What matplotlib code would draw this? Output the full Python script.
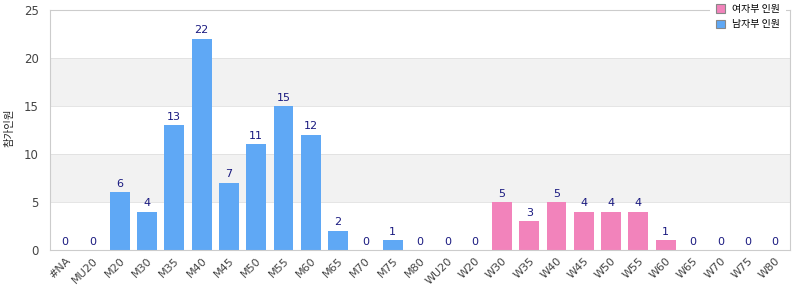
import matplotlib
matplotlib.use("Agg")
import matplotlib.pyplot as plt
from matplotlib.patches import Patch, Rectangle

plt.rcParams['font.family'] = ['Noto Sans CJK KR', 'DejaVu Sans']

categories = ["#NA", "MU20", "M20", "M30", "M35", "M40", "M45", "M50", "M55", "M60",
              "M65", "M70", "M75", "M80", "WU20", "W20", "W30", "W35", "W40", "W45",
              "W50", "W55", "W60", "W65", "W70", "W75", "W80"]
male_values = [0, 0, 6, 4, 13, 22, 7, 11, 15, 12, 2, 0, 1, 0,
               0, 0, 0, 0, 0, 0, 0, 0, 0, 0, 0, 0, 0]
female_values = [0, 0, 0, 0, 0, 0, 0, 0, 0, 0, 0, 0, 0, 0,
                 0, 0, 5, 3, 5, 4, 4, 4, 1, 0, 0, 0, 0]
legend_labels = ["여자부 인원", "남자부 인원"]
y_label = "참가인원"

blue = "#5fa8f5"
pink = "#f283bb"

fig = plt.figure(figsize=(8, 3), dpi=100)
ax = fig.add_axes([50/800, 50/300, 740/800, 240/300])

x = list(range(len(categories)))
ax.set_xlim(-0.55, len(categories) - 0.45)
ax.set_ylim(0, 25)

for lo in (5, 15):
    ax.axhspan(lo, lo + 5, color="#f2f2f2", zorder=0, lw=0)
for yv in (5, 10, 15, 20):
    ax.axhline(yv, color="#e0e0e0", lw=0.6, zorder=0.5)

w = 0.73
ax.bar(x, male_values, width=w, color=blue, zorder=2)
ax.bar(x, female_values, width=w, color=pink, zorder=2)

for i in x:
    v = male_values[i] + female_values[i]
    ax.text(i, v + 0.35, str(v), ha="center", va="bottom", fontsize=8,
            color="#1a1a80", family=["DejaVu Sans"], zorder=3)

ax.set_xticks(x)
ax.set_xticklabels(categories, rotation=45, ha="right", rotation_mode="anchor",
                   fontsize=8, color="#444444", family=["DejaVu Sans"])
ax.set_yticks([0, 5, 10, 15, 20, 25])
ax.set_yticklabels(["0", "5", "10", "15", "20", "25"], fontsize=8.5,
                   color="#444444", family=["DejaVu Sans"])
ax.tick_params(axis="both", length=0, pad=4)
ax.tick_params(axis="y", pad=8)

for s in ax.spines.values():
    s.set_color("#cccccc")
    s.set_linewidth(0.8)

fig.text(5/800, 1 - 128/300, y_label, rotation=90, ha="left", va="center",
         fontsize=7.5, color="#222222")

# white box behind the legend, covering the top border as in the reference
fig.patches.append(Rectangle((710/800, 1 - 36/300), 76/800, 36/300,
                             transform=fig.transFigure, facecolor="white",
                             edgecolor="none", zorder=5))

handles = [Patch(facecolor=pink, edgecolor="#888888", lw=0.8),
           Patch(facecolor=blue, edgecolor="#888888", lw=0.8)]
leg = fig.legend(handles, legend_labels, loc="upper left",
                 bbox_to_anchor=(716/800, 1 - 4/300), fontsize=7.2, frameon=False,
                 handlelength=0.9, handleheight=0.9, handletextpad=0.7,
                 labelspacing=0.55, borderpad=0, borderaxespad=0)
leg.set_zorder(6)

fig.savefig("out.png", dpi=100)
